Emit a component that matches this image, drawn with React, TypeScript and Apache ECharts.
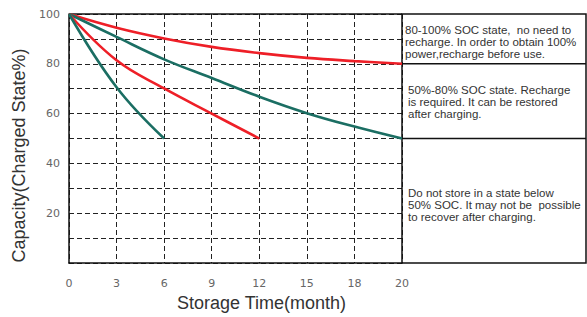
import React, { useEffect, useRef } from "react";
import * as echarts from "echarts";

// x values are axis positions: grid columns 0,3,...,18 and the last column labelled "20" sits at 21
const xTicks = [0, 3, 6, 9, 12, 15, 18, 21];
const xTickLabels = ["0", "3", "6", "9", "12", "15", "18", "20"];
const yTickLabels = [20, 40, 60, 80, 100];

const redTop: [number, number][] = [[0, 100], [3, 94.5], [6, 90.2], [9, 86.8], [12, 84.3], [15, 82.4], [18, 81.1], [21, 80]];
const greenMid: [number, number][] = [[0, 100], [3, 90.8], [6, 81.8], [9, 74.3], [12, 66.8], [15, 60.2], [18, 54.8], [21, 50]];
const redMid: [number, number][] = [[0, 100], [3, 81.4], [6, 70.1], [9, 60], [12, 50]];
const greenSteep: [number, number][] = [[0, 100], [3, 70.6], [6, 50]];

const boxTexts = [
  "80-100% SOC state,  no need to\nrecharge. In order to obtain 100%\npower,recharge before use.",
  "50%-80% SOC state. Recharge\nis required. It can be restored\nafter charging.",
  "Do not store in a state below\n50% SOC. It may not be  possible\nto recover after charging.",
];
const boxLevels = [100, 80, 50, 0];

const RED = "#ee1f27";
const GREEN = "#1b6e63";

export default function App() {
  const ref = useRef<HTMLDivElement>(null);
  useEffect(() => {
    if (!ref.current) return;
    const chart = echarts.init(ref.current, undefined, { renderer: "svg" });
    const line = (data: [number, number][], color: string) => ({
      type: "line",
      data,
      smooth: 0.4,
      symbol: "none",
      lineStyle: { color, width: 2.6 },
    });
    chart.setOption({
      animation: false,
      grid: { left: 69, right: 185, top: 14, bottom: 46.5 },
      xAxis: {
        type: "value",
        min: 0,
        max: 21,
        interval: 3,
        name: "Storage Time(month)",
        nameLocation: "middle",
        nameGap: 26,
        nameTextStyle: { fontFamily: "Liberation Sans", fontSize: 18, color: "#333", padding: [0, 0, 0, 52] },
        axisLine: { show: true, lineStyle: { color: "#111", width: 1.5 } },
        axisTick: { show: false },
        axisLabel: {
          margin: 15,
          fontFamily: "DejaVu Sans",
          fontSize: 11,
          color: "#666",
          formatter: (v: number) => {
            const i = xTicks.indexOf(v);
            return i >= 0 ? xTickLabels[i] : "";
          },
        },
        splitLine: { show: true, lineStyle: { color: "#222", type: [5, 3], width: 1 } },
      },
      yAxis: {
        type: "value",
        min: 0,
        max: 100,
        interval: 10,
        name: "Capacity(Charged State%)",
        nameLocation: "middle",
        nameGap: 37,
        nameTextStyle: { fontFamily: "Liberation Sans", fontSize: 18, color: "#333", padding: [0, 34, 0, 0] },
        axisLine: { show: true, lineStyle: { color: "#111", width: 1.5 } },
        axisTick: { show: false },
        axisLabel: {
          margin: 9,
          fontFamily: "DejaVu Sans",
          fontSize: 11,
          color: "#666",
          formatter: (v: number) => (yTickLabels.indexOf(v) >= 0 ? String(v) : ""),
        },
        splitLine: { show: true, lineStyle: { color: "#222", type: [5, 3], width: 1 } },
      },
      series: [line(redTop, RED), line(greenMid, GREEN), line(redMid, RED), line(greenSteep, GREEN)],
    });

    const px = (x: number, y: number) => chart.convertToPixel({ gridIndex: 0 }, [x, y]) as number[];
    const [x0, yTop] = px(0, 100);
    const [xR] = px(21, 100);
    const ys = boxLevels.map((l) => px(0, l)[1]);
    const boxRight = 586;
    const textOffsets = [9.5, 20, 48];
    const textX = [xR + 3, xR + 6, xR + 6];
    chart.setOption({
      graphic: [
        {
          type: "line",
          shape: { x1: x0, y1: yTop, x2: xR, y2: yTop },
          style: { stroke: "#111", lineWidth: 1.5 },
        },
        {
          type: "rect",
          shape: { x: xR, y: ys[0], width: boxRight - xR, height: ys[3] - ys[0] },
          style: { stroke: "#111", lineWidth: 1.5, fill: "none" },
        },
        ...[1, 2].map((i) => ({
          type: "line",
          shape: { x1: xR, y1: ys[i], x2: boxRight, y2: ys[i] },
          style: { stroke: "#111", lineWidth: 1.5 },
        })),
        ...boxTexts.map((t, i) => ({
          type: "text",
          x: textX[i],
          y: ys[i] + textOffsets[i],
          style: {
            text: t,
            font: '11.5px "Liberation Sans"',
            fill: "#333",
            lineHeight: 12,
            verticalAlign: "top",
          },
        })),
      ],
    });
    return () => chart.dispose();
  }, []);
  return <div ref={ref} style={{ position: "absolute", left: 0, top: 0, width: 587, height: 317 }} />;
}
